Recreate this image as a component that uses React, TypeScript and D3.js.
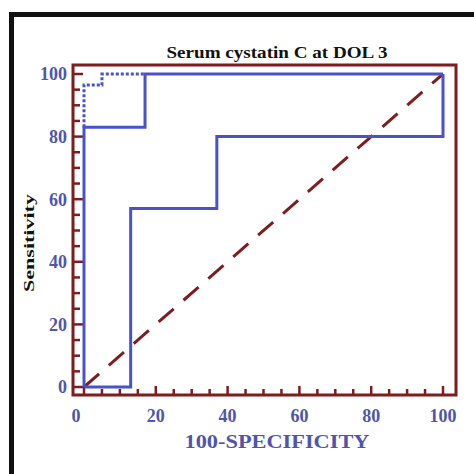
import * as d3 from 'd3';
import React, { useRef, useEffect } from 'react';

// ROC curves, values (100-specificity, sensitivity)
const rocAFpr = [0, 0, 17, 17, 100];
const rocASens = [0, 83, 83, 100, 100];
const rocBFpr = [0, 13, 13, 37, 37, 100, 100];
const rocBSens = [0, 0, 57, 57, 80, 80, 100];
const rocDotFpr = [0, 0, 5, 5, 17];
const rocDotSens = [83, 96.5, 96.5, 100, 100];
const xTicks = [0, 20, 40, 60, 80, 100];
const yTicks = [0, 20, 40, 60, 80, 100];

const maroon = '#7d1d1f';
const blue = '#4a52c9';
const labelBlue = '#4f55ad';
const serif = '"Liberation Serif", "DejaVu Serif", serif';

function RocChart({ width, height }) {
    const ref = useRef();

    useEffect(() => {
        draw();
    }, []);

    const draw = () => {
        const svg = d3.select(ref.current);
        svg.selectAll('*').remove();
        svg.attr('width', width).attr('height', height);

        svg.append('rect').attr('width', width).attr('height', height).attr('fill', 'white');

        // outer black frame
        svg.append('rect')
            .attr('x', 11.5).attr('y', 14.5)
            .attr('width', 500).attr('height', 500)
            .attr('fill', 'none')
            .attr('stroke', '#111')
            .attr('stroke-width', 5);

        var frame = { left: 73, top: 65, right: 456, bottom: 395 };

        var x = d3.scaleLinear().domain([0, 100]).range([84, 443]);
        var y = d3.scaleLinear().domain([0, 100]).range([387, 74]);

        // plot frame
        svg.append('rect')
            .attr('x', frame.left).attr('y', frame.top)
            .attr('width', frame.right - frame.left)
            .attr('height', frame.bottom - frame.top)
            .attr('fill', 'none')
            .attr('stroke', maroon)
            .attr('stroke-width', 3);

        // ticks every 5, longer every 20
        var minor = d3.range(0, 101, 5);
        svg.append('g').selectAll('line')
            .data(minor)
            .enter().append('line')
            .attr('x1', frame.left).attr('x2', function(d) { return frame.left + (d % 20 === 0 ? 10 : 7); })
            .attr('y1', function(d) { return y(d); }).attr('y2', function(d) { return y(d); })
            .attr('stroke', maroon).attr('stroke-width', 2.5);

        svg.append('g').selectAll('line')
            .data(minor)
            .enter().append('line')
            .attr('y1', frame.bottom).attr('y2', function(d) { return frame.bottom - (d % 20 === 0 ? 9 : 6); })
            .attr('x1', function(d) { return x(d); }).attr('x2', function(d) { return x(d); })
            .attr('stroke', maroon).attr('stroke-width', 2.5);

        // tick labels
        svg.append('g').selectAll('text')
            .data(yTicks)
            .enter().append('text')
            .attr('x', 67)
            .attr('y', function(d) { return y(d); })
            .attr('dy', '0.35em')
            .attr('text-anchor', 'end')
            .style('font-family', serif)
            .style('font-weight', 'bold')
            .style('font-size', '18px')
            .style('fill', labelBlue)
            .text(function(d) { return d; });

        svg.append('g').selectAll('text')
            .data(xTicks)
            .enter().append('text')
            .attr('x', function(d) { return x(d) - (d === 0 ? 8 : 0); })
            .attr('y', 422)
            .attr('text-anchor', 'middle')
            .style('font-family', serif)
            .style('font-weight', 'bold')
            .style('font-size', '18px')
            .style('fill', labelBlue)
            .text(function(d) { return d; });

        // diagonal reference line
        svg.append('path')
            .datum([0, 100])
            .attr('d', d3.line().x(function(d) { return x(d); }).y(function(d) { return y(d); }))
            .attr('fill', 'none')
            .attr('stroke', maroon)
            .attr('stroke-width', 3)
            .attr('stroke-dasharray', '20,13');

        var line = d3.line()
            .x(function(d) { return x(d[0]); })
            .y(function(d) { return y(d[1]); });

        function curve(fpr, sens, dash) {
            svg.append('path')
                .datum(d3.zip(fpr, sens))
                .attr('d', line)
                .attr('fill', 'none')
                .attr('stroke', blue)
                .attr('stroke-width', 3)
                .attr('stroke-dasharray', dash);
        }
        curve(rocBFpr, rocBSens, null);
        curve(rocAFpr, rocASens, null);
        curve(rocDotFpr, rocDotSens, '3,2');

        // titles (the source image is stretched sideways, so widths are fixed)
        svg.append('text')
            .attr('x', 277).attr('y', 58)
            .attr('text-anchor', 'middle')
            .attr('textLength', 221)
            .attr('lengthAdjust', 'spacingAndGlyphs')
            .style('font-family', serif)
            .style('font-weight', 'bold')
            .style('font-size', '17px')
            .style('fill', '#111')
            .text('Serum cystatin C at DOL 3');

        svg.append('text')
            .attr('x', 277).attr('y', 448)
            .attr('text-anchor', 'middle')
            .attr('textLength', 185)
            .attr('lengthAdjust', 'spacingAndGlyphs')
            .style('font-family', serif)
            .style('font-weight', 'bold')
            .style('font-size', '19px')
            .style('fill', labelBlue)
            .text('100-SPECIFICITY');

        svg.append('text')
            .attr('transform', 'translate(34,243) rotate(-90)')
            .attr('text-anchor', 'middle')
            .attr('textLength', 98)
            .attr('lengthAdjust', 'spacingAndGlyphs')
            .style('font-family', serif)
            .style('font-weight', 'bold')
            .style('font-size', '15px')
            .style('fill', '#111')
            .text('Sensitivity');
    };

    return (
        <svg ref={ref} style={{ position: 'absolute', left: 0, top: 0, display: 'block' }}></svg>
    );
}

export default function App() {
    return <RocChart width={474} height={474} />;
}
